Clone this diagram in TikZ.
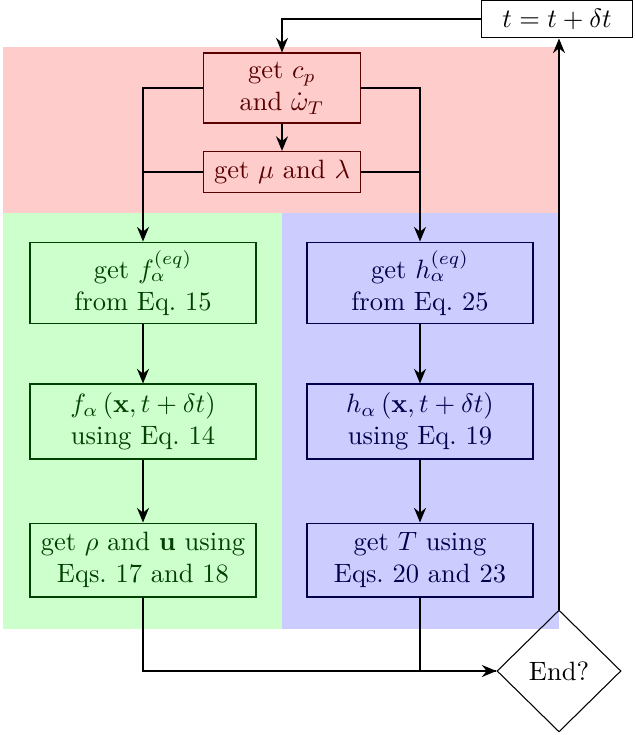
\documentclass[tikz,border=0pt]{standalone}
\usetikzlibrary{shapes.geometric,arrows.meta}
\begin{document}
\begin{tikzpicture}[x=0.3774pt,y=-0.3774pt,
  box/.style={draw,line width=0.4pt,align=center,inner sep=2pt},
  redbox/.style={box,fill=red!20,draw=red!35!black,text=red!35!black,minimum width=59.2pt},
  grnbox/.style={box,fill=green!20,draw=green!25!black,text=green!25!black,minimum width=85.3pt},
  blubox/.style={box,fill=blue!20,draw=blue!30!black,text=blue!30!black,minimum width=85.3pt},
  flow/.style={line width=0.8pt,-{Stealth[length=5.5pt,width=4.5pt]}},
  plain/.style={line width=0.8pt}]
\useasboundingbox (0,0) rectangle (635,735);
% background regions
\fill[red!20] (3,47) rectangle (559,213);
\fill[green!20] (3,213) rectangle (282,629);
\fill[blue!20] (282,213) rectangle (559,629);
% nodes
\node[box,draw=black,minimum width=57pt,minimum height=14.3pt] (tb) at (557,19) {$t=t+\delta t$};
\node[redbox,minimum height=26.4pt] (cp) at (282,88) {get $c_p$\\and $\dot\omega_T$};
\node[redbox,minimum height=15.5pt] (mu) at (282,172) {get $\mu$ and $\lambda$};
\node[grnbox,minimum height=30.9pt] (f1) at (143,283) {get $f_\alpha^{(eq)}$\\from Eq.~15};
\node[grnbox,minimum height=28.3pt] (f2) at (143,421.5) {$f_\alpha\left(\mathbf{x},t+\delta t\right)$\\using Eq.~14};
\node[grnbox,minimum height=27.9pt] (f3) at (143,560) {get $\rho$ and $\mathbf{u}$ using\\Eqs.~17 and 18};
\node[blubox,minimum height=30.9pt] (h1) at (420,283) {get $h_\alpha^{(eq)}$\\from Eq.~25};
\node[blubox,minimum height=28.3pt] (h2) at (420,421.5) {$h_\alpha\left(\mathbf{x},t+\delta t\right)$\\using Eq.~19};
\node[blubox,minimum height=27.9pt] (h3) at (420,560) {get $T$ using\\Eqs.~20 and 23};
\node[diamond,draw,line width=0.4pt,inner sep=0pt,minimum width=46.8pt,minimum height=46pt] (end) at (559,671) {End?};
% connectors
\draw[flow] (tb.west) -| (cp.north);
\draw[flow] (cp.south) -- (mu.north);
\draw[flow] (cp.west) -| (f1.north);
\draw[plain] (mu.west) -- (mu.west -| f1.north);
\draw[flow] (cp.east) -| (h1.north);
\draw[plain] (mu.east) -- (mu.east -| h1.north);
\draw[flow] (f1) -- (f2);
\draw[flow] (f2) -- (f3);
\draw[flow] (h1) -- (h2);
\draw[flow] (h2) -- (h3);
\draw[flow] (f3.south) |- (end.west);
\draw[plain] (h3.south) |- (end.west);
\draw[flow] (end.north) -- (end.north |- tb.south);
\end{tikzpicture}
\end{document}
